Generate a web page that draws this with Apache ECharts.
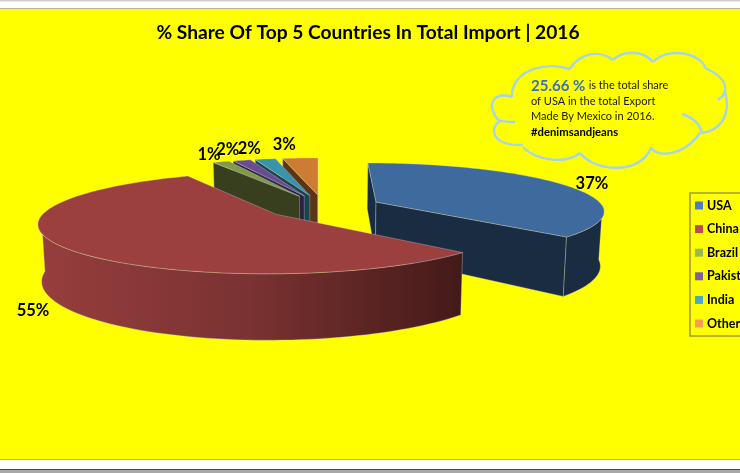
<!DOCTYPE html>
<html><head><meta charset="utf-8">
<style>html,body{margin:0;padding:0;background:#fff}#c{width:740px;height:473px}</style>
<script src="https://cdn.jsdelivr.net/npm/echarts@6/dist/echarts.min.js"></script>
</head><body><div id="c"></div>
<script>
const categories = ['USA','China','Brazil','Pakistan','India','Others'];
const shares = [37,55.35,1.4,1.5,1.75,3];
const topColors = ['#3f6a9e','#9c3f3f','#7f9a48','#6a4c93','#3a93ad','#cc7c33'];
const wallColors = ['#1a2c42','#7d3333','#383f1f','#2d2040','#174650','#5c3614'];
const legendColors = ['#4a7ebb','#be4b48','#98b954','#7d60a0','#46aac5','#f59d56'];
const labelOffsets = [[27,-1],[-31,63],[-12,-7],[-14,-11],[-16,-10],[-16,-13]];
const paintOrder = ['Others','India','Pakistan','Brazil','USA','China'];

const P = {vx:318,hy:-76,uS:.803,vS:.000587,vc:.003537,cx:.024,expl:.257,depth:.19,shrink:.013};
const rad = d => d*Math.PI/180;
function project(X,Y,bottom){
  const v=P.vc+Y*P.vS; let sx=P.vx+X*P.uS/v, sy=P.hy+1/v;
  if(bottom){sx=P.vx+(sx-P.vx)*(1-P.shrink); sy=P.hy+(sy-P.hy)*(1+P.depth);}
  return [sx,sy];
}
const total = shares.reduce((a,b)=>a+b,0);
let run=0;
const spans = shares.map(s=>{const a=run/total*360; run+=s; return [a,run/total*360];});
const edge='rgba(215,215,215,.55)';

function sliceChildren(i){
  const [t0,t1]=spans[i], mid=(t0+t1)/2;
  const ax=P.cx+Math.sin(rad(mid))*P.expl, ay=Math.cos(rad(mid))*P.expl;
  const rim=(t)=>[ax+Math.sin(rad(t)),ay+Math.cos(rad(t))];
  const arcPts=(a,b)=>{const n=Math.max(2,Math.ceil((b-a)/2)),o=[];for(let k=0;k<=n;k++)o.push(rim(a+(b-a)*k/n));return o;};
  const kids=[];
  const wall=(pts,fill)=>{
    const top=pts.map(p=>project(p[0],p[1],false)), bot=pts.map(p=>project(p[0],p[1],true)).reverse();
    kids.push({type:'polygon',shape:{points:top.concat(bot)},style:{fill,stroke:edge,lineWidth:.6}});
  };
  if(Math.cos(rad(t0-90))<0.01) wall([[ax,ay],rim(t0)],wallColors[i]);
  if(Math.cos(rad(t1+90))<0.01) wall([[ax,ay],rim(t1)],wallColors[i]);
  const a0=Math.max(t0,95), a1=Math.min(t1,268);
  if(a1>a0){
    const fill = categories[i]==='China'
      ? {type:'linear',x:0,y:0,x2:1,y2:0,colorStops:[{offset:0,color:'#963e3d'},{offset:.5,color:'#7a3232'},{offset:1,color:'#431a18'}]}
      : wallColors[i];
    wall(arcPts(a0,a1),fill);
  }
  const face=[[ax,ay]].concat(arcPts(t0,t1)).map(p=>project(p[0],p[1],false));
  kids.push({type:'polygon',shape:{points:face},style:{fill:topColors[i],stroke:edge,lineWidth:.6}});
  const lp=project(...rim(mid));
  kids.push({type:'text',x:lp[0]+labelOffsets[i][0],y:lp[1]+labelOffsets[i][1],
    style:{text:Math.round(shares[i])+'%',font:'bold 16.5px Lato',fill:'#000',align:'center',verticalAlign:'middle'}});
  return {type:'group',children:kids};
}

const series = categories.map((name,i)=>({
  type:'custom',name,coordinateSystem:'none',z:2+paintOrder.indexOf(name),silent:true,
  itemStyle:{color:legendColors[i]},data:[shares[i]],
  renderItem:()=>sliceChildren(i)
}));

const cloudArcs=[
 [512,97,495,92,485,102,498,120],[498,120,503,122,509,122,515,122],
 [500,121,489,128,491,146,523,145],
 [523,147,535,160,565,165,580,153],
 [580,153,595,172,640,175,651,148],
 [651,147,655,157,682,158,700,133],
 [682,114,694,118,700,124,702,133],
 [700,133,718,132,732,117,725,92],
 [718,100,730,92,728,78,705,68],
 [705,68,703,55,670,45,653,62],
 [653,62,643,50,623,50,613,60],
 [613,60,600,50,580,52,570,69],
 [570,69,547,62,517,68,512,92],[512,92,512,94,512,96,512,97]
];
const cloudEls=cloudArcs.map(a=>({type:'bezierCurve',silent:true,z:20,
  shape:{x1:a[0],y1:a[1],cpx1:a[2],cpy1:a[3],cpx2:a[4],cpy2:a[5],x2:a[6],y2:a[7]},
  style:{stroke:'#a6d4ea',lineWidth:2.4,fill:'none'}}));

const chart=echarts.init(document.getElementById('c'),null,{renderer:'canvas'});
chart.setOption({
  animation:false,
  backgroundColor:'#fff',
  title:{text:'% Share Of Top 5 Countries In Total Import | 2016',left:363,top:18,textAlign:'center',
    textStyle:{fontFamily:'Lato',fontWeight:'bold',fontSize:19.2,color:'#000'}},
  legend:{data:categories,orient:'vertical',left:690,top:193,padding:[6,60,6,5],itemGap:10.6,itemWidth:8,itemHeight:8,icon:'rect',
    borderColor:'#a0a030',borderWidth:1.6,backgroundColor:'transparent',selectedMode:false,
    textStyle:{fontFamily:'Lato',fontWeight:'bold',fontSize:12.5,color:'#000',padding:[0,0,0,-1]}},
  graphic:[
    {type:'rect',z:-10,silent:true,shape:{x:0,y:0,width:740,height:1.5},style:{fill:'#cfcfcf'}},
    {type:'rect',z:-10,silent:true,shape:{x:-3,y:8.5,width:746,height:451},style:{fill:'#ffff00',stroke:'#b5b59a',lineWidth:1}},
    {type:'rect',z:-10,silent:true,shape:{x:0,y:469,width:740,height:1.5},style:{fill:'#4a4a4a'}},
    {type:'rect',z:-10,silent:true,shape:{x:0,y:470.5,width:740,height:2.5},style:{fill:'#a8a8a8'}},
    ...cloudEls,
    {type:'text',z:21,silent:true,x:531,y:78,style:{
      text:'{a|25.66 %} {b|is the total share}\n{b|of USA in the total Export}\n{b|Made By Mexico in 2016.}\n{c|#denimsandjeans}',
      rich:{a:{font:'bold 15px Lato',fill:'#3a6ec0',lineHeight:15.5},b:{font:'11px Lato',fill:'#1a1a00',lineHeight:15.5},c:{font:'bold 11.3px Lato',fill:'#000',lineHeight:15.5}}
    }}
  ],
  series
});
</script></body></html>
